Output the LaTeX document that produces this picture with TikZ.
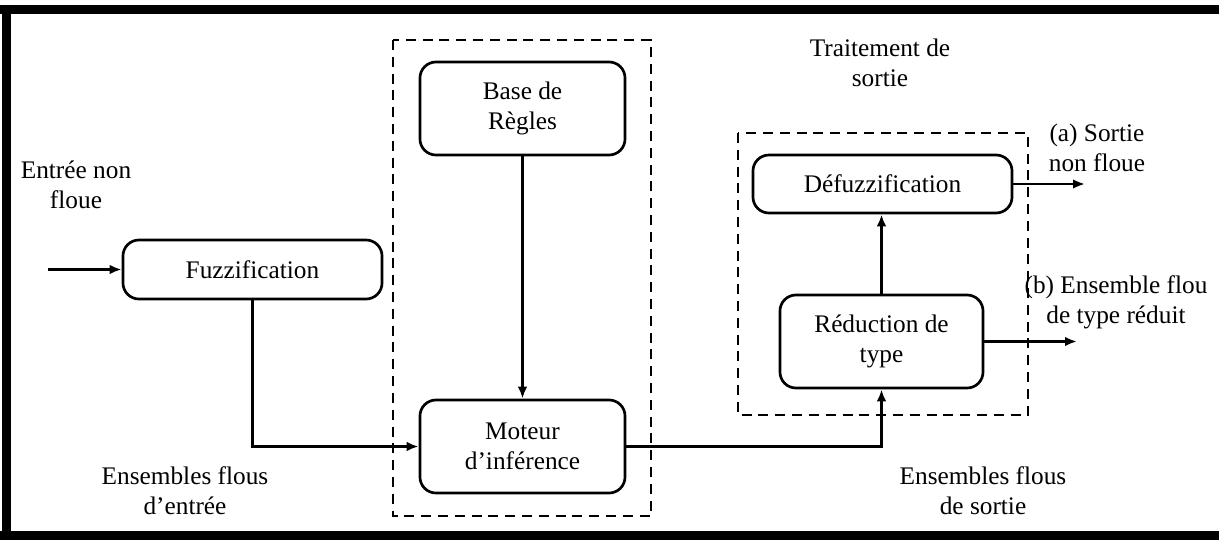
\documentclass[tikz,border=0pt]{standalone}
\usepackage{fontspec}
\setmainfont{Liberation Serif}
\newfontfamily\blockfont{Liberation Serif}
\usepackage{tikz}
\usetikzlibrary{arrows,arrows.meta,calc,positioning,shapes}
\tikzset{%
	block/.style    = {draw, rectangle, rounded corners=0.4cm, line width=1.9pt, text centered, align=center},
	txt/.style      = {align=center, inner sep=0pt},
	group/.style    = {dashed, line width=2pt, dash pattern=on 0.25cm off 0.17cm},
	arrow/.style    = {line width=1.8pt,-{Latex[length=0.3cm,width=0.24cm]}},
}

\begin{document}
\begin{tikzpicture}[x=0.025cm,y=-0.025cm,font=\blockfont\fontsize{18}{21.3}\selectfont]
		\useasboundingbox (0,0) rectangle (1219,540);
		% frame
		\draw[line width=6.4pt] (0,9.5) -- (1219,9.5);
		\draw[line width=6.4pt] (6.5,5) -- (6.5,540);
		\draw[line width=6.4pt] (0,535.5) -- (1219,535.5);
		
		% dashed groups
		\draw[group] (393,40) rectangle (651,516);
		\draw[group] (738,133) rectangle (1028,415);
		
		% blocks
		\node[block, minimum width=6.475cm, minimum height=1.475cm] (fuzz) at (252.5,269.5) {Fuzzification};
		\node[block, minimum width=5.125cm, minimum height=2.325cm] (regles) at (522.5,108.5) {Base de\\Règles};
		\node[block, minimum width=5.125cm, minimum height=2.325cm] (moteur) at (522.5,446.5) {Moteur\\d’inférence};
		\node[block, minimum width=6.475cm, minimum height=1.45cm] (defuzz) at (882.5,184) {Défuzzification};
		\node[block, minimum width=5.075cm, minimum height=2.325cm] (reduc) at (881.5,341.5) {Réduction de\\type};
		
		% texts
		\node[txt] (entree) at (76,185) {Entrée non\\floue};
		\node[txt] (ensIn) at (185,491) {Ensembles flous\\d’entrée};
		\node[txt] (traite) at (880,63) {Traitement de\\sortie};
		\node[txt] (sortA) at (1097,148) {(a) Sortie\\non floue};
		\node[txt] (sortB) at (1116,302) {(b) Ensemble flou\\de type réduit};
		\node[txt] (ensOut) at (983,491) {Ensembles flous\\de sortie};
		
		% connections
		\coordinate (in) at (48,269.5);
		\coordinate (outA) at (1085,184);
		\coordinate (outB) at (1077,341.5);
		\draw[arrow] (in) -- (fuzz.west);
		\draw[arrow] (fuzz.south) |- (moteur.west);
		\draw[arrow] (regles.south) -- (moteur.north);
		\draw[arrow] (moteur.east) -| (reduc.south);
		\draw[arrow] (reduc.north) -- (reduc.north |- defuzz.south);
		\draw[arrow] (defuzz.east) -- (outA);
		\draw[arrow] (reduc.east) -- (outB);
		
\end{tikzpicture}
\end{document}
